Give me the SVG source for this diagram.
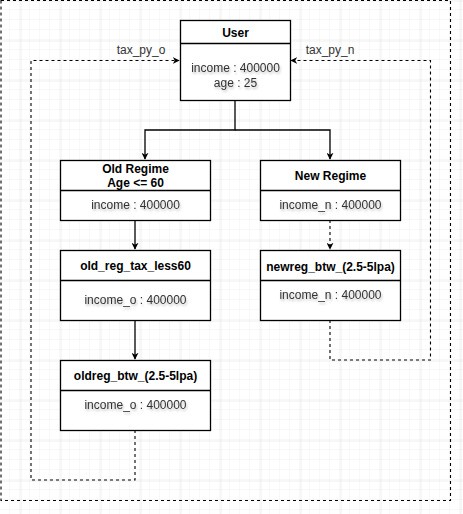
<svg xmlns="http://www.w3.org/2000/svg" width="463" height="514" viewBox="0 0 463 514">
  <defs>
    <pattern id="minor" width="10" height="10" patternUnits="userSpaceOnUse">
      <path d="M10 0V10M0 10H10" fill="none" stroke="#f0f0f0" stroke-width="1"/>
    </pattern>
    <pattern id="major" x="20.5" y="0.5" width="40" height="40" patternUnits="userSpaceOnUse">
      <path d="M0 0V40M0 0H40" fill="none" stroke="#dedede" stroke-width="1"/>
    </pattern>
    <filter id="tshadow" x="-10%" y="-30%" width="130%" height="180%">
      <feDropShadow dx="1" dy="2" stdDeviation="1.2" flood-color="#000" flood-opacity="0.25"/>
    </filter>
    <marker id="arrow" viewBox="0 0 10 10" refX="9" refY="5" markerWidth="7" markerHeight="7" markerUnits="userSpaceOnUse" orient="auto">
      <path d="M0 0L10 5L0 10L3 5Z" fill="#000"/>
    </marker>
  </defs>
  <style>
    .box { fill: #fff; stroke: #000; stroke-width: 1.3; }
    .sep { stroke: #000; stroke-width: 1.3; }
    .title { font-family: "Liberation Sans", Arial, sans-serif; font-size: 12px; font-weight: bold; fill: #000; text-anchor: middle; }
    .body { font-family: "Liberation Sans", Arial, sans-serif; font-size: 12px; fill: #333; text-anchor: middle; filter: url(#tshadow); }
    .lbl { font-family: "Liberation Sans", Arial, sans-serif; font-size: 12px; fill: #333; text-anchor: middle; }
    .solid { fill: none; stroke: #000; stroke-width: 1.3; }
    .dash { fill: none; stroke: #000; stroke-width: 1.1; stroke-dasharray: 3 3; }
  </style>

  <!-- background grid -->
  <rect width="463" height="514" fill="#fff"/>
  <rect width="463" height="514" fill="url(#minor)"/>
  <rect width="463" height="514" fill="url(#major)"/>

  <!-- outer dashed frame -->
  <rect id="frame" x="1" y="0.5" width="449.5" height="500" class="dash"/>

  <!-- connectors -->
  <g id="connectors">
    <path d="M235 100V130H145V159" class="solid" marker-end="url(#arrow)"/>
    <path d="M235 130H330V159" class="solid" marker-end="url(#arrow)"/>
    <path d="M135 220V249" class="solid" marker-end="url(#arrow)"/>
    <path d="M330 220V249" class="dash" marker-end="url(#arrow)"/>
    <path d="M135 320V359" class="solid" marker-end="url(#arrow)"/>
    <path d="M135 430V480H31V60.5H179" class="dash" marker-end="url(#arrow)"/>
    <path d="M330 320V360H430.5V60.5H291" class="dash" marker-end="url(#arrow)"/>
    <text x="141" y="54" class="lbl">tax_py_o</text>
    <text x="330" y="54" class="lbl">tax_py_n</text>
  </g>

  <!-- User -->
  <g id="user">
    <rect x="180.5" y="20.5" width="110" height="80" class="box"/>
    <line x1="180.5" y1="43.5" x2="290.5" y2="43.5" class="sep"/>
    <text x="235.5" y="37" class="title">User</text>
    <text x="235.5" y="72" class="body">income : 400000</text>
    <text x="235.5" y="87" class="body">age : 25</text>
  </g>

  <!-- Old Regime -->
  <g id="old-regime">
    <rect x="60.5" y="160.5" width="150" height="60" class="box"/>
    <line x1="60.5" y1="190.5" x2="210.5" y2="190.5" class="sep"/>
    <text x="135.5" y="173" class="title">Old Regime</text>
    <text x="135.5" y="187" class="title">Age &lt;= 60</text>
    <text x="135.5" y="209" class="body">income : 400000</text>
  </g>

  <!-- New Regime -->
  <g id="new-regime">
    <rect x="260.5" y="160.5" width="140" height="60" class="box"/>
    <line x1="260.5" y1="190.5" x2="400.5" y2="190.5" class="sep"/>
    <text x="330.5" y="180" class="title">New Regime</text>
    <text x="330.5" y="209" class="body">income_n : 400000</text>
  </g>

  <!-- old_reg_tax_less60 -->
  <g id="old-reg-tax-less60">
    <rect x="60.5" y="250.5" width="150" height="70" class="box"/>
    <line x1="60.5" y1="280.5" x2="210.5" y2="280.5" class="sep"/>
    <text x="135.5" y="270" class="title">old_reg_tax_less60</text>
    <text x="135.5" y="304" class="body">income_o : 400000</text>
  </g>

  <!-- newreg_btw_(2.5-5lpa) -->
  <g id="newreg-btw">
    <rect x="260.5" y="250.5" width="140" height="70" class="box"/>
    <line x1="260.5" y1="280.5" x2="400.5" y2="280.5" class="sep"/>
    <text x="330.5" y="271" class="title">newreg_btw_(2.5-5lpa)</text>
    <text x="330.5" y="298.5" class="body">income_n : 400000</text>
  </g>

  <!-- oldreg_btw_(2.5-5lpa) -->
  <g id="oldreg-btw">
    <rect x="60.5" y="360.5" width="150" height="70" class="box"/>
    <line x1="60.5" y1="390.5" x2="210.5" y2="390.5" class="sep"/>
    <text x="135.5" y="380" class="title">oldreg_btw_(2.5-5lpa)</text>
    <text x="135.5" y="408.5" class="body">income_o : 400000</text>
  </g>
</svg>
